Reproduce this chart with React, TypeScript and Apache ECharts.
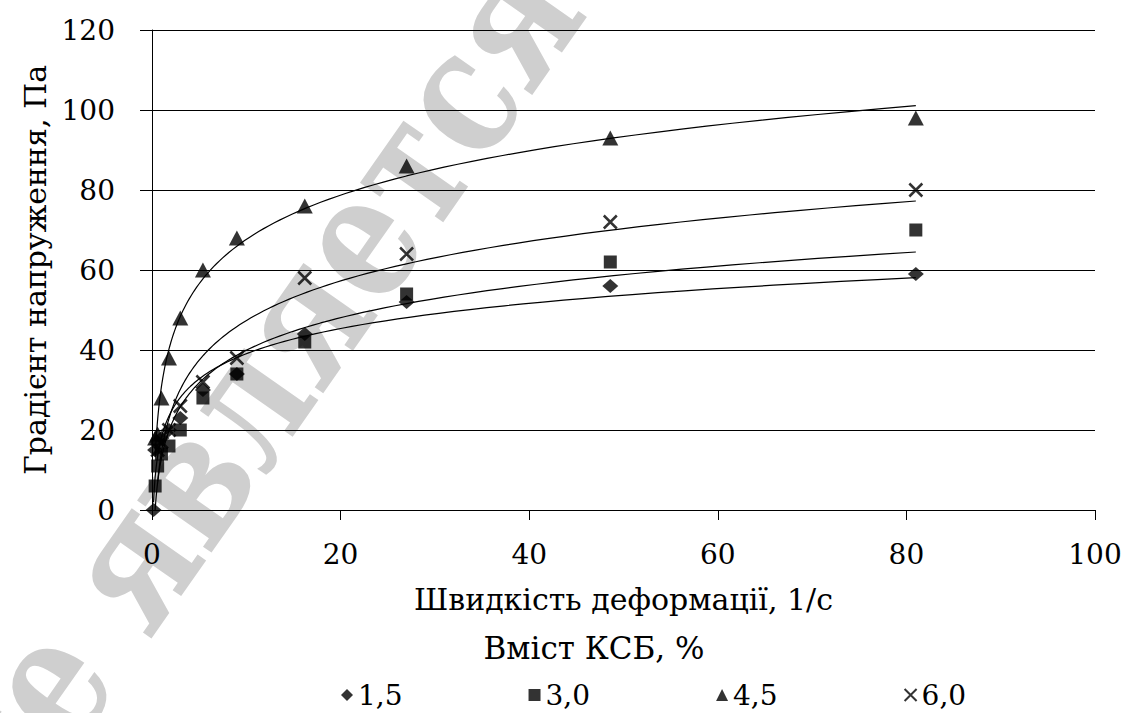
import React, { useEffect, useRef } from "react";
import * as echarts from "echarts";

// Shear rate, 1/s
const shearRate = [0.167, 0.333, 0.6, 1.0, 1.8, 3.0, 5.4, 9.0, 16.2, 27, 48.6, 81];
// Stress gradient, Pa, for each KSB content
const ksb15 = [0, 15, 17, 18, 20, 23, 30, 34, 44, 52, 56, 59];
const ksb30 = [null, 6, 11, 14, 16, 20, 28, 34, 42, 54, 62, 70];
const ksb45 = [null, 18, 19, 28, 38, 48, 60, 68, 76, 86, 93, 98];
const ksb60 = [null, null, 15, 17, 20, 26, 32, 38, 58, 64, 72, 80];

const seriesNames = ["1,5", "3,0", "4,5", "6,0"];
const xTitle = "Швидкість деформації, 1/с";
const yTitle = "Градієнт напруження, Па";
const legendTitle = "Вміст КСБ, %";
const watermark = "не является";

const FONT = "DejaVu Serif";
const CROSS = "path://M0,0L10,10M10,0L0,10";

function pairs(values: (number | null)[]) {
  const out: number[][] = [];
  values.forEach((v, i) => {
    if (v !== null) out.push([shearRate[i], v]);
  });
  return out;
}

// Excel-style logarithmic trendline y = a ln(x) + b, drawn over the data's x range
function logTrend(values: (number | null)[]) {
  const pts = pairs(values).filter((p) => p[0] > 0);
  const n = pts.length;
  const lx = pts.map((p) => Math.log(p[0]));
  const ys = pts.map((p) => p[1]);
  const mx = lx.reduce((s, v) => s + v, 0) / n;
  const my = ys.reduce((s, v) => s + v, 0) / n;
  let sxy = 0;
  let sxx = 0;
  for (let i = 0; i < n; i++) {
    sxy += (lx[i] - mx) * (ys[i] - my);
    sxx += (lx[i] - mx) * (lx[i] - mx);
  }
  const a = sxy / sxx;
  const b = my - a * mx;
  const x0 = Math.min(...pts.map((p) => p[0]));
  const x1 = Math.max(...pts.map((p) => p[0]));
  const out: number[][] = [];
  const steps = 120;
  for (let k = 0; k <= steps; k++) {
    const x = x0 * Math.pow(x1 / x0, k / steps);
    out.push([x, a * Math.log(x) + b]);
  }
  return out;
}

export default function App() {
  const ref = useRef<HTMLDivElement>(null);
  useEffect(() => {
    const chart = echarts.init(ref.current!, null, { renderer: "svg" });
    const data = [ksb15, ksb30, ksb45, ksb60];
    const symbols = ["diamond", "rect", "triangle", CROSS];
    const sizes: any[] = [[16, 14], 13, [16, 15], 13];
    const scatter = data.map((vals, i) => ({
      name: seriesNames[i],
      type: "scatter",
      data: pairs(vals),
      symbol: symbols[i],
      symbolSize: sizes[i],
      itemStyle: i === 3
        ? { color: "#000", borderColor: "#000", borderWidth: 2.5 }
        : { color: "#000" },
      z: 5,
    }));
    const trends = data.map((vals, i) => ({
      name: "trend" + i,
      type: "line",
      data: logTrend(vals),
      showSymbol: false,
      symbol: "none",
      lineStyle: { color: "#000", width: 1.2 },
      z: 4,
      silent: true,
    }));
    chart.setOption({
      animation: false,
      backgroundColor: "#fff",
      textStyle: { fontFamily: FONT, color: "#000" },
      grid: { left: 152, right: 31, top: 30, bottom: 203, containLabel: false },
      xAxis: {
        type: "value",
        min: 0,
        max: 100,
        interval: 20,
        name: xTitle,
        nameLocation: "middle",
        nameGap: 74,
        nameTextStyle: { fontSize: 30, fontFamily: FONT, color: "#000" },
        axisLine: { show: true, lineStyle: { color: "#000", width: 1 } },
        axisTick: { show: true, inside: false, length: 10, lineStyle: { color: "#000" } },
        axisLabel: { fontSize: 28, fontFamily: FONT, color: "#000", margin: 30 },
        splitLine: { show: false },
      },
      yAxis: {
        type: "value",
        min: 0,
        max: 120,
        interval: 20,
        name: yTitle,
        nameLocation: "middle",
        nameGap: 100,
        nameRotate: 90,
        nameTextStyle: { fontSize: 30, fontFamily: FONT, color: "#000" },
        axisLine: { show: true, lineStyle: { color: "#000", width: 1 } },
        axisTick: { show: true, inside: false, length: 12, lineStyle: { color: "#000" } },
        axisLabel: { fontSize: 28, fontFamily: FONT, color: "#000", margin: 37 },
        splitLine: { show: true, lineStyle: { color: "#000", width: 1 } },
      },
      legend: {
        data: seriesNames,
        left: 336,
        top: 676,
        itemWidth: 12,
        itemHeight: 12,
        itemGap: 126,
        textStyle: { fontSize: 28, fontFamily: FONT, color: "#000" },
      },
      graphic: [
        {
          type: "text",
          x: 250,
          y: 390,
          rotation: (55 * Math.PI) / 180,
          scaleX: 0.8,
          z: -10,
          silent: true,
          style: {
            text: watermark,
            fontSize: 175,
            fontWeight: "bold",
            fontFamily: FONT,
            fill: "#cfcfcf",
            align: "center",
            verticalAlign: "middle",
          },
        },
        {
          type: "text",
          x: 594,
          y: 648,
          style: {
            text: legendTitle,
            fontSize: 31,
            fontFamily: FONT,
            fill: "#000",
            align: "center",
            verticalAlign: "middle",
          },
        },
      ],
      series: [...trends, ...scatter],
    });
    return () => chart.dispose();
  }, []);
  return (
    <div
      ref={ref}
      style={{ position: "absolute", left: 0, top: 0, width: 1126, height: 713, background: "#fff" }}
    />
  );
}
